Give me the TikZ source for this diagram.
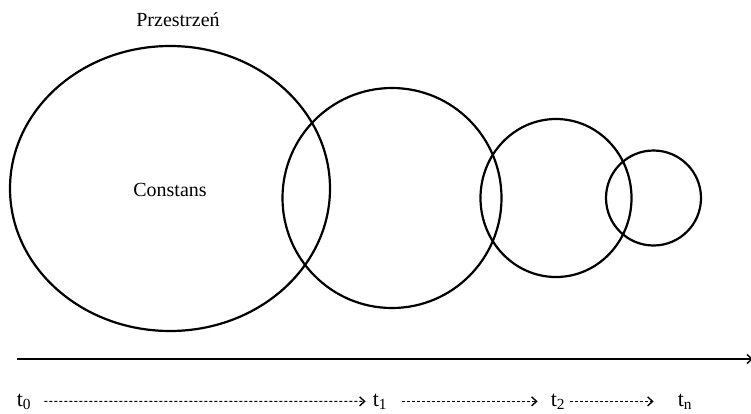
\documentclass[tikz,border=0pt]{standalone}
\usepackage{fontspec}
\setmainfont{Liberation Serif}
\usetikzlibrary{shapes.geometric,arrows.meta}
\begin{document}
\begin{tikzpicture}[x=1pt,y=-1pt,
  blob/.style={draw, ellipse, line width=2.2pt, inner sep=0pt, anchor=center},
  lbl/.style={inner sep=0pt, font=\fontsize{20}{24}\selectfont},
  tlbl/.style={inner sep=0pt, font=\fontsize{22}{26}\selectfont},
  dasharrow/.style={line width=1pt, dash pattern=on 3pt off 2pt, -{Straight Barb[length=5pt,width=9pt,line width=1.4pt]}},
  axis/.style={line width=1.4pt, -{Straight Barb[length=5pt,width=9pt]}}]
\useasboundingbox (0,0) rectangle (751,413);
% ellipses
\node[blob, minimum width=320pt, minimum height=285pt] (e0) at (170,188.5) {};
\node[blob, minimum width=219pt, minimum height=220pt] (e1) at (392,198) {};
\node[blob, minimum width=151pt, minimum height=158pt] (e2) at (556,198) {};
\node[blob, minimum width=95pt, minimum height=95pt] (e3) at (653.5,198) {};
% labels
\node[lbl] (space) at (178,20) {Przestrzeń};
\node[lbl] (const) at (170,190) {Constans};
% axis
\coordinate (axL) at (17,359);
\coordinate (axR) at (753,359);
\draw[axis] (axL) -- (axR);
% time labels
\node[tlbl, anchor=base] (t0) at (24,406) {t\textsubscript{0}};
\node[tlbl, anchor=base] (t1) at (380,406) {t\textsubscript{1}};
\node[tlbl, anchor=base] (t2) at (558,406) {t\textsubscript{2}};
\node[tlbl, anchor=base] (tn) at (685,406) {t\textsubscript{n}};
\draw[dasharrow] ([xshift=13pt]t0.east) -- ([xshift=-7pt]t1.west);
\draw[dasharrow] ([xshift=15pt]t1.east) -- ([xshift=-13pt]t2.west);
\draw[dasharrow] ([xshift=5pt]t2.east) -- ([xshift=-24pt]tn.west);
\end{tikzpicture}
\end{document}
